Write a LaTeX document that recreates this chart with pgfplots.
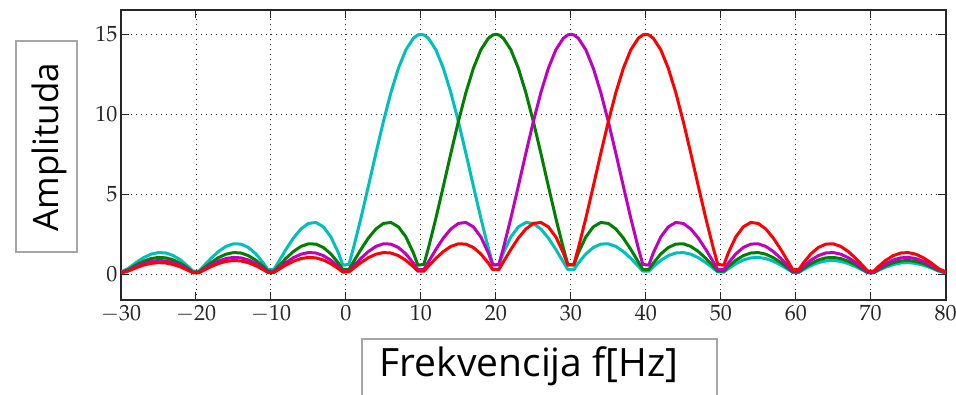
\documentclass[border=0pt]{standalone}
\usepackage{mathpazo}
\usepackage{fontspec}
\usepackage{pgfplots}
\usepackage{pgfplotstable}
\pgfplotsset{compat=1.18}
\newfontfamily\comic{Open Sans}
\definecolor{mc}{rgb}{0,0.75,0.75}
\definecolor{mg}{rgb}{0,0.5,0}
\definecolor{mm}{rgb}{0.75,0,0.75}
\definecolor{mr}{rgb}{1,0,0}
\pgfplotstableread{
x c g m r
-30 0.150 0.120 0.100 0.085
-29 0.378 0.301 0.250 0.214
-28 0.739 0.585 0.484 0.413
-27 1.044 0.822 0.678 0.577
-26 1.261 0.987 0.811 0.688
-25 1.364 1.061 0.868 0.735
-24 1.336 1.032 0.841 0.710
-23 1.171 0.898 0.729 0.613
-22 0.877 0.668 0.540 0.453
-21 0.476 0.360 0.289 0.242
-20.4 0.197 0.148 0.119 0.099
-19.6 0.202 0.151 0.121 0.100
-19 0.509 0.378 0.301 0.250
-18 1.002 0.739 0.585 0.484
-17 1.431 1.044 0.822 0.678
-16 1.747 1.261 0.987 0.811
-15 1.910 1.364 1.061 0.868
-14 1.892 1.336 1.032 0.841
-13 1.679 1.171 0.898 0.729
-12 1.276 0.877 0.668 0.540
-11 0.703 0.476 0.360 0.289
-10.4 0.293 0.197 0.148 0.119
-9.6 0.305 0.202 0.151 0.121
-9 0.777 0.509 0.378 0.301
-8 1.559 1.002 0.739 0.585
-7 2.272 1.431 1.044 0.822
-6 2.838 1.747 1.261 0.987
-5 3.183 1.910 1.364 1.061
-4 3.244 1.892 1.336 1.032
-3 2.971 1.679 1.171 0.898
-2 2.339 1.276 0.877 0.668
-1 1.341 0.703 0.476 0.360
-0.4 0.575 0.293 0.197 0.148
0.4 0.623 0.305 0.202 0.151
1 1.639 0.777 0.509 0.378
2 3.508 1.559 1.002 0.739
3 5.518 2.272 1.431 1.044
4 7.568 2.838 1.747 1.261
5 9.549 3.183 1.910 1.364
6 11.352 3.244 1.892 1.336
7 12.876 2.971 1.679 1.171
8 14.032 2.339 1.276 0.877
9 14.754 1.341 0.703 0.476
9.6 14.961 0.575 0.293 0.197
10 15.000 nan nan nan
10.4 14.961 0.623 0.305 0.202
11 14.754 1.639 0.777 0.509
12 14.032 3.508 1.559 1.002
13 12.876 5.518 2.272 1.431
14 11.352 7.568 2.838 1.747
15 9.549 9.549 3.183 1.910
16 7.568 11.352 3.244 1.892
17 5.518 12.876 2.971 1.679
18 3.508 14.032 2.339 1.276
19 1.639 14.754 1.341 0.703
19.6 0.623 14.961 0.575 0.293
20 nan 15.000 nan nan
20.4 0.575 14.961 0.623 0.305
21 1.341 14.754 1.639 0.777
22 2.339 14.032 3.508 1.559
23 2.971 12.876 5.518 2.272
24 3.244 11.352 7.568 2.838
25 3.183 9.549 9.549 3.183
26 2.838 7.568 11.352 3.244
27 2.272 5.518 12.876 2.971
28 1.559 3.508 14.032 2.339
29 0.777 1.639 14.754 1.341
29.6 0.305 0.623 14.961 0.575
30 nan nan 15.000 nan
30.4 0.293 0.575 14.961 0.623
31 0.703 1.341 14.754 1.639
32 1.276 2.339 14.032 3.508
33 1.679 2.971 12.876 5.518
34 1.892 3.244 11.352 7.568
35 1.910 3.183 9.549 9.549
36 1.747 2.838 7.568 11.352
37 1.431 2.272 5.518 12.876
38 1.002 1.559 3.508 14.032
39 0.509 0.777 1.639 14.754
39.6 0.202 0.305 0.623 14.961
40 nan nan nan 15.000
40.4 0.197 0.293 0.575 14.961
41 0.476 0.703 1.341 14.754
42 0.877 1.276 2.339 14.032
43 1.171 1.679 2.971 12.876
44 1.336 1.892 3.244 11.352
45 1.364 1.910 3.183 9.549
46 1.261 1.747 2.838 7.568
47 1.044 1.431 2.272 5.518
48 0.739 1.002 1.559 3.508
49 0.378 0.509 0.777 1.639
49.6 0.151 0.202 0.305 0.623
50.4 0.148 0.197 0.293 0.575
51 0.360 0.476 0.703 1.341
52 0.668 0.877 1.276 2.339
53 0.898 1.171 1.679 2.971
54 1.032 1.336 1.892 3.244
55 1.061 1.364 1.910 3.183
56 0.987 1.261 1.747 2.838
57 0.822 1.044 1.431 2.272
58 0.585 0.739 1.002 1.559
59 0.301 0.378 0.509 0.777
59.6 0.121 0.151 0.202 0.305
60.4 0.119 0.148 0.197 0.293
61 0.289 0.360 0.476 0.703
62 0.540 0.668 0.877 1.276
63 0.729 0.898 1.171 1.679
64 0.841 1.032 1.336 1.892
65 0.868 1.061 1.364 1.910
66 0.811 0.987 1.261 1.747
67 0.678 0.822 1.044 1.431
68 0.484 0.585 0.739 1.002
69 0.250 0.301 0.378 0.509
69.6 0.100 0.121 0.151 0.202
70.4 0.099 0.119 0.148 0.197
71 0.242 0.289 0.360 0.476
72 0.453 0.540 0.668 0.877
73 0.613 0.729 0.898 1.171
74 0.710 0.841 1.032 1.336
75 0.735 0.868 1.061 1.364
76 0.688 0.811 0.987 1.261
77 0.577 0.678 0.822 1.044
78 0.413 0.484 0.585 0.739
79 0.214 0.250 0.301 0.378
80 0.085 0.100 0.120 0.150
}\data

\begin{document}
\begin{tikzpicture}[x=1pt,y=1pt]
\path[use as bounding box] (0,0) rectangle (956,395);
\begin{axis}[
  at={(121pt,95pt)}, anchor=south west,
  width=824.7pt, height=289.7pt, scale only axis,
  xmin=-30, xmax=80, ymin=-1.6, ymax=16.5,
  xtick={-30,-20,...,80}, ytick={0,5,10,15},
  grid=major,
  grid style={black!80, line width=0.9pt, dash pattern=on 1.2pt off 3.8pt},
  axis line style={line width=1.6pt, black!85},
  tick style={black!85, line width=1pt},
  major tick length=8pt, tick align=inside,
  xtick pos=both, ytick pos=both,
  ticklabel style={font=\fontsize{22}{25}\selectfont, black!85},
  xticklabel style={yshift=-2pt},
  unbounded coords=discard,
  every axis plot/.append style={line width=3pt, line join=round, no markers},
]
\addplot[mc] table[x=x, y=c] {\data};
\addplot[mg] table[x=x, y=g] {\data};
\addplot[mm] table[x=x, y=m] {\data};
\addplot[mr] table[x=x, y=r] {\data};
\end{axis}
\draw[black!35, line width=1.5pt, fill=white] (16,143) rectangle (77,354);
\node[rotate=90, anchor=base, inner sep=0pt] at (58,248) {\comic\fontsize{35}{40}\selectfont Amplituda};
\draw[black!35, line width=1.5pt, fill=white] (362,-10) rectangle (717,56);
\node[anchor=base, inner sep=0pt] at (529,18) {\comic\fontsize{39}{44}\selectfont Frekvencija f[Hz]};
\end{tikzpicture}
\end{document}
